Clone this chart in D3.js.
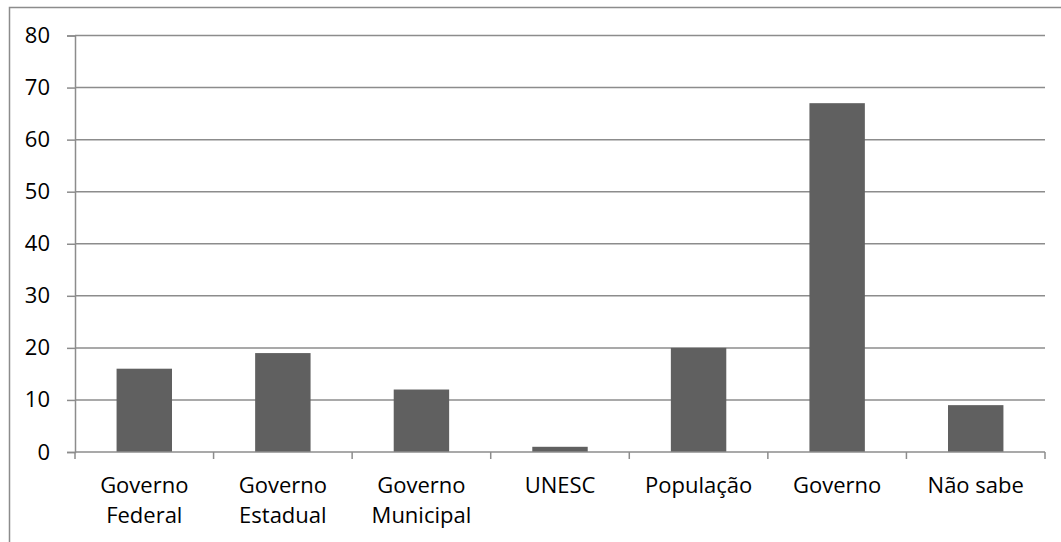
<!DOCTYPE html>
<html>
<head>
<meta charset="utf-8">
<script src="https://cdn.jsdelivr.net/npm/d3@7"></script>
<style>
  html, body { margin: 0; padding: 0; background: #fff; }
  svg text { font-family: "Open Sans", "Noto Sans", sans-serif; fill: #000; }
</style>
</head>
<body>
<svg id="chart" width="1061" height="542"></svg>
<script>
// Categories (two-line labels split on "\n") and their values
const categories = ["Governo\nFederal", "Governo\nEstadual", "Governo\nMunicipal", "UNESC", "População", "Governo", "Não sabe"];
const values = [16, 19, 12, 1, 20, 67, 9];
const yTicks = [0, 10, 20, 30, 40, 50, 60, 70, 80];

const svg = d3.select("#chart");
const plotLeft = 75, plotRight = 1045, plotTop = 35.5, plotBottom = 452;
const fontSize = "22px";

// Outer chart frame
svg.append("rect")
  .attr("x", 9.5).attr("y", 7.5)
  .attr("width", 1070).attr("height", 560)
  .attr("fill", "none").attr("stroke", "#8c8c8c").attr("stroke-width", 1.5);

const x = d3.scaleBand().domain(categories).range([plotLeft, plotRight]).paddingInner(0.6).paddingOuter(0.3);
const xOuter = d3.scaleBand().domain(categories).range([plotLeft, plotRight]).padding(0);
const y = d3.scaleLinear().domain([0, 80]).range([plotBottom, plotTop]);

// Horizontal gridlines
svg.append("g").selectAll("line").data(yTicks.filter(d => d > 0)).join("line")
  .attr("x1", plotLeft).attr("x2", plotRight)
  .attr("y1", d => y(d)).attr("y2", d => y(d))
  .attr("stroke", "#8c8c8c").attr("stroke-width", 1.5);

// Y axis
const yAxis = svg.append("g").attr("transform", `translate(${plotLeft},0)`)
  .call(d3.axisLeft(y).tickValues(yTicks).tickSize(8).tickPadding(17));
yAxis.attr("font-size", null).attr("font-family", null);
yAxis.select(".domain").attr("stroke", "#8c8c8c").attr("stroke-width", 1.5);
yAxis.selectAll(".tick line").attr("stroke", "#8c8c8c").attr("stroke-width", 1.5);
yAxis.selectAll(".tick text").style("font-size", fontSize).attr("fill", "#000");

// Bars
svg.append("g").selectAll("rect").data(values).join("rect")
  .attr("x", (d, i) => x(categories[i]))
  .attr("width", x.bandwidth())
  .attr("y", d => y(d))
  .attr("height", d => y(0) - y(d))
  .attr("fill", "#606060");

// X axis line with category boundary ticks
svg.append("line").attr("x1", plotLeft).attr("x2", plotRight).attr("y1", plotBottom).attr("y2", plotBottom)
  .attr("stroke", "#8c8c8c").attr("stroke-width", 1.5);
const bounds = categories.map(c => xOuter(c)).concat([plotRight]);
svg.append("g").selectAll("line").data(bounds).join("line")
  .attr("x1", d => d).attr("x2", d => d)
  .attr("y1", plotBottom).attr("y2", plotBottom + 7)
  .attr("stroke", "#8c8c8c").attr("stroke-width", 1.5);

// Category labels
const labels = svg.append("g").selectAll("text").data(categories).join("text")
  .attr("text-anchor", "middle")
  .style("font-size", fontSize)
  .attr("x", d => xOuter(d) + xOuter.bandwidth() / 2)
  .attr("y", 493);
labels.each(function(d) {
  const parts = d.split("\n");
  d3.select(this).selectAll("tspan").data(parts).join("tspan")
    .attr("x", xOuter(d) + xOuter.bandwidth() / 2)
    .attr("dy", (p, i) => i === 0 ? 0 : 30)
    .text(p => p);
});
</script>
</body>
</html>
